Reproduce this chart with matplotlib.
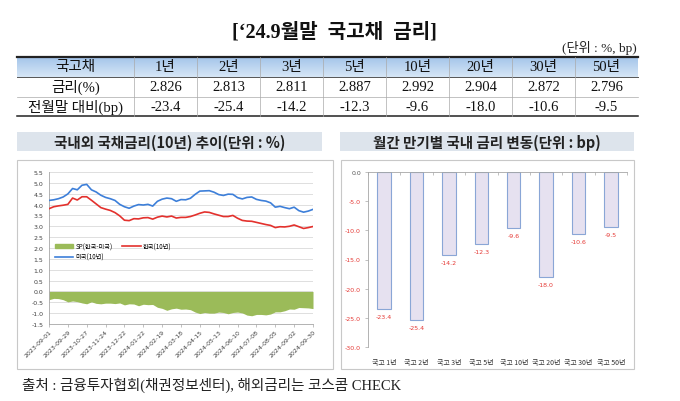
import matplotlib
matplotlib.use("Agg")
import matplotlib.pyplot as plt
import numpy as np
from matplotlib.patches import Rectangle, Patch
from matplotlib.lines import Line2D
from matplotlib.colors import LinearSegmentedColormap
from matplotlib.ticker import FormatStrFormatter

W, H = 680, 402

serif_kr = ['Liberation Serif', 'Noto Sans CJK KR']
sans_kr = ['Noto Sans CJK KR', 'DejaVu Sans']

# table / bar data
tenors = ['1년', '2년', '3년', '5년', '10년', '20년', '30년', '50년']
rates = [2.826, 2.813, 2.811, 2.887, 2.992, 2.904, 2.872, 2.796]
changes = [-23.4, -25.4, -14.2, -12.3, -9.6, -18.0, -10.6, -9.5]
bar_labels = ['국고 1년', '국고 2년', '국고 3년', '국고 5년', '국고 10년',
              '국고 20년', '국고 30년', '국고 50년']

# 10y yields, roughly weekly from 2023-09-01 to 2024-09-30
kr_10y = [3.81, 3.90, 3.94, 3.97, 4.01, 4.30, 4.21, 4.36, 4.36, 4.20,
          4.03, 3.86, 3.79, 3.73, 3.63, 3.48, 3.28, 3.26, 3.35, 3.34,
          3.39, 3.40, 3.33, 3.42, 3.47, 3.43, 3.47, 3.38, 3.41, 3.41,
          3.45, 3.52, 3.60, 3.66, 3.64, 3.57, 3.51, 3.45, 3.45, 3.50,
          3.37, 3.27, 3.24, 3.23, 3.18, 3.13, 3.08, 3.04, 2.94, 2.98,
          2.97, 3.00, 3.06, 2.98, 2.90, 2.94, 2.99]
us_10y = [4.19, 4.22, 4.27, 4.35, 4.49, 4.74, 4.68, 4.89, 4.93, 4.68,
          4.58, 4.43, 4.33, 4.27, 4.19, 4.01, 3.90, 3.83, 3.93, 4.00,
          3.98, 4.01, 3.93, 4.15, 4.25, 4.30, 4.27, 4.15, 4.23, 4.22,
          4.29, 4.47, 4.62, 4.63, 4.64, 4.57, 4.46, 4.42, 4.48, 4.47,
          4.32, 4.26, 4.33, 4.35, 4.24, 4.19, 4.16, 4.08, 3.88, 3.92,
          3.86, 3.81, 3.88, 3.72, 3.65, 3.70, 3.78]
date_ticks = ['2023-09-01', '2023-09-29', '2023-10-27', '2023-11-24', '2023-12-22',
              '2024-01-22', '2024-02-19', '2024-03-18', '2024-04-15', '2024-05-13',
              '2024-06-10', '2024-07-08', '2024-08-05', '2024-09-02', '2024-09-30']


def rect(x0, y0, x1, y1):
    return [x0 / W, 1 - y1 / H, (x1 - x0) / W, (y1 - y0) / H]


fig = plt.figure(figsize=(W / 100, H / 100), dpi=100)
bg = fig.add_axes([0, 0, 1, 1])
bg.set_xlim(0, W)
bg.set_ylim(H, 0)
bg.axis('off')

# title
bg.text(334, 32, '[‘24.9월말  국고채  금리]', ha='center', va='center',
        fontsize=14.5, fontweight='bold', family=serif_kr, color='#111')
bg.text(637, 48, '(단위 : %, bp)', ha='right', va='center', fontsize=9.5,
        family=serif_kr, color='#222')

# table
tl, tr = 17, 638
cw = (tr - 134) / 8
x_edges = [tl, 134] + [134 + cw * (k + 1) for k in range(8)]
y_edges = [58, 78, 97.5, 117]
grad = LinearSegmentedColormap.from_list('hdr', ['#a4c5ea', '#d6e6f6'])
bg.imshow(np.linspace(0, 1, 30).reshape(-1, 1), cmap=grad, aspect='auto',
          extent=(tl, tr, y_edges[1], y_edges[0]), zorder=0)
bg.set_xlim(0, W)
bg.set_ylim(H, 0)
bg.plot([tl, tr], [58, 58], color='#222', lw=1.6)
bg.plot([tl, tr], [78, 78], color='#555', lw=0.7)
bg.plot([tl, tr], [97.5, 97.5], color='#aaa', lw=0.5)
bg.plot([tl, tr], [117, 117], color='#222', lw=1.1)
for xe in x_edges[1:-1]:
    bg.plot([xe, xe], [58, 117], color='#aaa', lw=0.5)

rows = [['국고채'] + tenors,
        ['금리(%)'] + ['%.3f' % r for r in rates],
        ['전월말 대비(bp)'] + ['%.1f' % c for c in changes]]
for i, row in enumerate(rows):
    yc = (y_edges[i] + y_edges[i + 1]) / 2
    for j, txt in enumerate(row):
        xc = (x_edges[j] + x_edges[j + 1]) / 2
        bg.text(xc, yc, txt, ha='center', va='center', fontsize=10.5,
                family=serif_kr, color='#111')

# chart title bands and frames
bg.add_patch(Rectangle((17, 133), 305, 19, fc='#dde4ec', ec='none'))
bg.text(169.5, 142.5, '국내외 국채금리(10년) 추이(단위 : %)', ha='center', va='center',
        fontsize=10.5, fontweight='bold', family=sans_kr, color='#222')
bg.add_patch(Rectangle((340, 133), 294, 19, fc='#dde4ec', ec='none'))
bg.text(487, 142.5, '월간 만기별 국내 금리 변동(단위 : bp)', ha='center', va='center',
        fontsize=10.5, fontweight='bold', family=sans_kr, color='#222')
bg.add_patch(Rectangle((17, 160.5), 316, 209.5, fill=False, ec='#c8c8c8', lw=0.8))
bg.add_patch(Rectangle((341, 160.5), 293, 209.5, fill=False, ec='#c8c8c8', lw=0.8))

bg.text(22, 385, '출처 : 금융투자협회(채권정보센터), 해외금리는 코스콤 CHECK',
        ha='left', va='center', fontsize=10.5, family=serif_kr, color='#222')

# left chart: yields and spread
ax1 = fig.add_axes(rect(49, 173, 313, 325))
n = len(kr_10y)
x = np.arange(n)
kr = np.array(kr_10y)
us = np.array(us_10y)
sp = kr - us
ax1.fill_between(x, 0, sp, color='#9bbb59', lw=0, zorder=2)
ax1.plot(x, kr, color='#e3312d', lw=1.2, zorder=3)
ax1.plot(x, us, color='#3d7fd9', lw=1.2, zorder=3)
ax1.set_xlim(0, n - 1)
ax1.set_ylim(-1.5, 5.5)
ax1.set_yticks(np.arange(-1.5, 5.51, 0.5))
ax1.yaxis.set_major_formatter(FormatStrFormatter('%.1f'))
ax1.grid(axis='y', color='#d9d9d9', lw=0.6)
ax1.set_axisbelow(True)
for s in ['top', 'right']:
    ax1.spines[s].set_visible(False)
for s in ['left', 'bottom']:
    ax1.spines[s].set_color('#a6a6a6')
    ax1.spines[s].set_linewidth(0.6)
ax1.set_xticks(np.linspace(0, n - 1, len(date_ticks)))
ax1.set_xticklabels(date_ticks, rotation=45, ha='right', rotation_mode='anchor')
ax1.tick_params(axis='x', labelsize=4.5, length=2, width=0.5, color='#a6a6a6',
                labelcolor='#404040', pad=1.5)
ax1.tick_params(axis='y', labelsize=4.5, length=0, labelcolor='#404040', pad=4)

handles = [Patch(color='#9bbb59', label='SP(한국-미국)'),
           Line2D([], [], color='#3d7fd9', lw=1.2, label='미국(10년)'),
           Line2D([], [], color='#e3312d', lw=1.2, label='한국(10년)')]
ax1.legend(handles=handles, loc='upper left', bbox_to_anchor=(0.0, 0.575), ncol=2,
           frameon=False, prop={'family': sans_kr, 'size': 4.5}, handlelength=3,
           handleheight=0.6, columnspacing=1.5, labelspacing=0.4, handletextpad=0.3)

# right chart: monthly change by tenor
ax2 = fig.add_axes(rect(368, 172.7, 627, 348.3))
xb = np.arange(len(changes))
ax2.bar(xb, changes, width=0.42, color='#e6e1f0', edgecolor='#8aa6d6', lw=0.8)
for xi, v in zip(xb, changes):
    ax2.annotate('%.1f' % v, (xi, v), xytext=(0, -3.5), textcoords='offset points',
                 ha='center', va='top', color='#e53935', fontsize=4.5)
ax2.set_xlim(-0.5, len(changes) - 0.5)
ax2.set_ylim(-30, 0)
ax2.set_yticks(np.arange(0, -30.1, -5))
ax2.yaxis.set_major_formatter(FormatStrFormatter('%.1f'))
ax2.tick_params(axis='y', labelsize=4.5, length=2, width=0.5, color='#a6a6a6', pad=3)
for lab, v in zip(ax2.get_yticklabels(), np.arange(0, -30.1, -5)):
    lab.set_color('#555' if v == 0 else '#e53935')
ax2.set_xticks(xb)
ax2.set_xticklabels(bar_labels, family=sans_kr)
ax2.tick_params(axis='x', labelsize=5, length=0, pad=8, labelcolor='#333')
ax2.set_xticks(np.arange(-0.5, len(changes), 1), minor=True)
ax2.tick_params(axis='x', which='minor', bottom=False, top=True, direction='in',
                length=2.5, width=0.5, color='#a6a6a6')
ax2.spines['bottom'].set_visible(False)
ax2.spines['right'].set_visible(False)
for s in ['left', 'top']:
    ax2.spines[s].set_color('#a6a6a6')
    ax2.spines[s].set_linewidth(0.6)

fig.savefig('out.png', dpi=100)
